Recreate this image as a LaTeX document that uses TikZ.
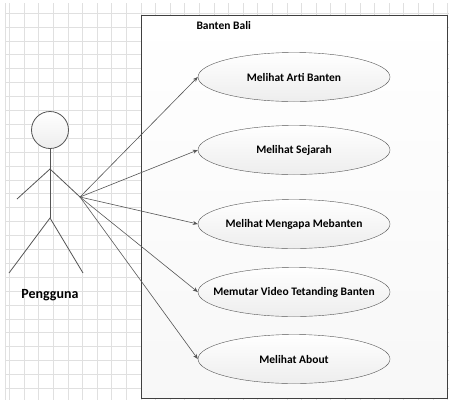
\documentclass[tikz,border=0pt]{standalone}
\usepackage{fontspec}
\setmainfont{Carlito}
\usepackage{tikz}
\usetikzlibrary{arrows.meta, shapes.geometric}

\definecolor{gridgray}{HTML}{E0E0E0}
\definecolor{linegray}{HTML}{555555}

\tikzset{
  usecase/.style={draw=linegray, ellipse, top color=white, bottom color=gray!14,
    minimum width=192pt, minimum height=49pt, inner xsep=-30pt, inner ysep=0pt,
    font=\fontsize{11.5}{13}\selectfont\bfseries},
  actorline/.style={draw=linegray, line width=0.8pt},
  assoc/.style={draw=linegray, line width=0.6pt, -{Stealth[length=5pt, width=4pt]}}
}

\begin{document}
\begin{tikzpicture}[x=1pt, y=-1pt]
        \useasboundingbox (0,0) rectangle (449,400);
        % Grid background
        \foreach \gx in {0,...,30} \draw[gridgray, line width=0.6pt] ({9.4+14.6*\gx},3) -- ({9.4+14.6*\gx},400);
        \foreach \gy in {0,...,27} \draw[gridgray, line width=0.6pt] (5,{13+13.9*\gy}) -- (449,{13+13.9*\gy});
        \draw[gridgray, line width=0.6pt] (5,3) -- (5,400);

        % System boundary
        \node (system) [draw=black!75, line width=0.8pt, rectangle, top color=white, bottom color=gray!6,
          minimum width=306pt, minimum height=383pt, inner sep=0pt, anchor=north west] at (141,15) {};
        \node (title) [anchor=west, font=\fontsize{11.5}{13}\selectfont\bfseries] at (193,26) {Banten Bali};

        % Use cases
        \node (arti) [usecase] at (294,77) {Melihat Arti Banten};
        \node (sejarah) [usecase] at (294,150) {Melihat Sejarah};
        \node (mengapa) [usecase] at (294,224) {Melihat Mengapa Mebanten};
        \node (video) [usecase] at (294,292) {Memutar Video Tetanding Banten};
        \node (about) [usecase] at (294,359) {Melihat About};

        % Actor
        \node (head) [circle, draw=linegray, line width=0.8pt, top color=white, bottom color=gray!14,
          minimum size=37pt, inner sep=0pt] at (50,130) {};
        \coordinate (neck) at (50,169);
        \coordinate (hip) at (50,218);
        \coordinate (lefthand) at (17,199);
        \coordinate (hand) at (80,197);
        \coordinate (leftfoot) at (9,273);
        \coordinate (rightfoot) at (83,273);
        \draw[actorline] (head.south) -- (hip);
        \draw[actorline] (lefthand) -- (neck) -- (hand);
        \draw[actorline] (leftfoot) -- (hip) -- (rightfoot);
        \node (pengguna) [font=\fontsize{14}{16}\selectfont\bfseries] at (50,295) {Pengguna};

        % Associations
        \draw[assoc] (hand) -- (arti.west);
        \draw[assoc] (hand) -- (sejarah.west);
        \draw[assoc] (hand) -- (mengapa.west);
        \draw[assoc] (hand) -- (video.west);
        \draw[assoc] (hand) -- (about.west);
    \end{tikzpicture}
\end{document}
